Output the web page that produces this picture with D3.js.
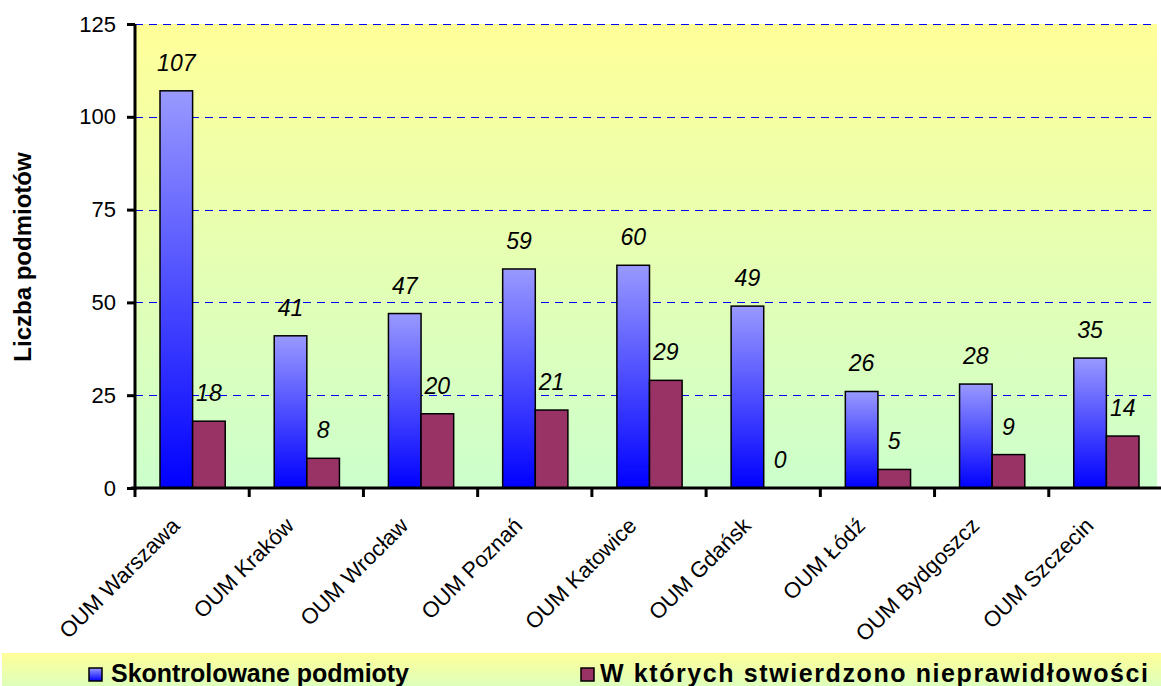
<!DOCTYPE html>
<html><head><meta charset="utf-8">
<script src="https://cdn.jsdelivr.net/npm/d3@7/dist/d3.min.js"></script>
<style>body{margin:0;background:#fff}svg{display:block;font-family:"Liberation Sans",Arial,sans-serif}</style>
</head><body><svg id="c" width="1161" height="686"></svg>
<script>
const categories = ["OUM Warszawa","OUM Kraków","OUM Wrocław","OUM Poznań","OUM Katowice","OUM Gdańsk","OUM Łódź","OUM Bydgoszcz","OUM Szczecin"];
const controlled = [107,41,47,59,60,49,26,28,35];
const irregular = [18,8,20,21,29,0,5,9,14];
const seriesNames = ["Skontrolowane podmioty","W których stwierdzono nieprawidłowości"];
const yTicks = [0,25,50,75,100,125];
const yTitle = "Liczba podmiotów";

const svg = d3.select("#c");
const defs = svg.append("defs");
const bg = defs.append("linearGradient").attr("id","bg").attr("x1",0).attr("y1",0).attr("x2",0).attr("y2",1);
bg.append("stop").attr("offset","0%").attr("stop-color","#ffff99");
bg.append("stop").attr("offset","100%").attr("stop-color","#ccffcc");
const lg = defs.append("linearGradient").attr("id","lg").attr("x1",0).attr("y1",0).attr("x2",0).attr("y2",1);
lg.append("stop").attr("offset","0%").attr("stop-color","#ffff99");
lg.append("stop").attr("offset","100%").attr("stop-color","#ccffcc");
const bl = defs.append("linearGradient").attr("id","blue").attr("x1",0).attr("y1",0).attr("x2",0).attr("y2",1);
bl.append("stop").attr("offset","0%").attr("stop-color","#9999ff");
bl.append("stop").attr("offset","100%").attr("stop-color","#0000ff");

const L = 135, R = 1163, T = 24, B = 488, plotRight = 1157;
const x = d3.scaleBand().domain(categories).range([L, R]).paddingInner(0).paddingOuter(0);
const sub = d3.scaleBand().domain([0,1]).range([25, x.bandwidth()-24]).padding(0);
const y = d3.scaleLinear().domain([0,125]).range([B, T]);

svg.append("rect").attr("x",L).attr("y",T).attr("width",plotRight-L).attr("height",B-T).attr("fill","url(#bg)");

// gridlines
svg.append("g").selectAll("line").data(yTicks.filter(d=>d>0)).join("line")
  .attr("x1",L).attr("x2",plotRight).attr("y1",d=>Math.round(y(d))+0.5).attr("y2",d=>Math.round(y(d))+0.5)
  .attr("stroke","#0000ff").attr("stroke-width",1).attr("stroke-dasharray","8,6");

// bars
const g = svg.append("g");
g.selectAll("rect.b").data(controlled).join("rect").attr("class","b")
  .attr("x",(d,i)=>x(categories[i])+sub(0)).attr("y",d=>y(d))
  .attr("width",sub.bandwidth()).attr("height",d=>B-y(d))
  .attr("fill","url(#blue)").attr("stroke","#000").attr("stroke-width",1.5);
g.selectAll("rect.r").data(irregular).join("rect").attr("class","r")
  .attr("x",(d,i)=>x(categories[i])+sub(1)).attr("y",d=>y(d))
  .attr("width",sub.bandwidth()).attr("height",d=>B-y(d))
  .attr("fill","#993366").attr("stroke","#000").attr("stroke-width",d=>d>0?1.5:0);

// value labels
const lab = svg.append("g").attr("font-size",23).attr("font-style","italic").attr("text-anchor","middle").attr("fill","#000");
lab.selectAll("text.b").data(controlled).join("text").attr("class","b")
  .attr("x",(d,i)=>x(categories[i])+sub(0)+sub.bandwidth()/2).attr("y",d=>y(d)-20).text(d=>d);
lab.selectAll("text.r").data(irregular).join("text").attr("class","r")
  .attr("x",(d,i)=>x(categories[i])+sub(1)+sub.bandwidth()/2).attr("y",d=>y(d)-20).text(d=>d);

// y axis
const ya = svg.append("g").attr("transform",`translate(${L},0)`)
  .call(d3.axisLeft(y).tickValues(yTicks).tickSize(8).tickPadding(11));
ya.select(".domain").attr("stroke","#000").attr("stroke-width",3).attr("d",`M0,${T}V${B+2}`);
ya.selectAll(".tick line").attr("stroke","#000").attr("stroke-width",3);
ya.selectAll(".tick text").attr("font-size",22).attr("font-family","Liberation Sans, Arial, sans-serif").attr("fill","#000");

// x axis
const xa = svg.append("g").attr("transform",`translate(0,${B})`)
  .call(d3.axisBottom(x).tickSize(0).tickFormat(""));
xa.select(".domain").attr("stroke","#000").attr("stroke-width",3).attr("d",`M${L-4},0H${R}`);
svg.append("g").selectAll("line").data(categories).join("line")
  .attr("x1",d=>x(d)+x.bandwidth()).attr("x2",d=>x(d)+x.bandwidth())
  .attr("y1",B).attr("y2",B+9).attr("stroke","#000").attr("stroke-width",3);
svg.append("line").attr("x1",L).attr("x2",L).attr("y1",B).attr("y2",B+9).attr("stroke","#000").attr("stroke-width",3);

// category labels
svg.append("g").selectAll("text").data(categories).join("text")
  .attr("transform",d=>`translate(${x(d)+x.bandwidth()/2-11},${B+39}) rotate(-45)`)
  .attr("text-anchor","end").attr("font-size",22).attr("fill","#000").text(d=>d);

// y title
svg.append("text").attr("transform","translate(31,257) rotate(-90)").attr("text-anchor","middle")
  .attr("font-size",24).attr("font-weight","bold").text(yTitle);

// legend
svg.append("rect").attr("x",2).attr("y",653).attr("width",1159).attr("height",50).attr("fill","url(#lg)");
const legX = [89, 581], legTextX = [111, 600], legW = [298, 548];
const leg = svg.append("g");
leg.selectAll("rect").data(seriesNames).join("rect")
  .attr("x",(d,i)=>legX[i]).attr("y",668).attr("width",13).attr("height",13)
  .attr("fill",(d,i)=>i===0?"url(#blue)":"#993366").attr("stroke","#000").attr("stroke-width",1.5);
leg.selectAll("text").data(seriesNames).join("text")
  .attr("x",(d,i)=>legTextX[i]).attr("y",682).attr("font-size",25).attr("font-weight","bold")
  .attr("textLength",(d,i)=>legW[i]).attr("lengthAdjust","spacing").text(d=>d);
</script></body></html>
